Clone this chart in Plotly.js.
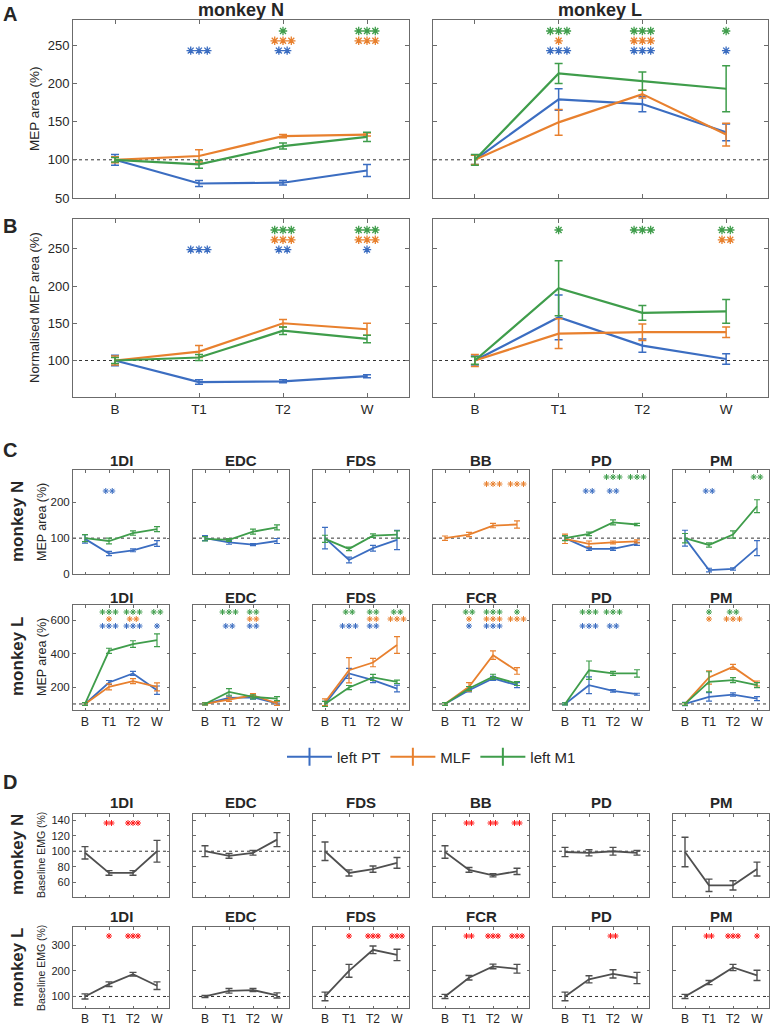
<!DOCTYPE html>
<html>
<head>
<meta charset="utf-8">
<script src="https://cdn.plot.ly/plotly-3.0.1.min.js"></script>
<style>
  body { margin: 0; background: #fff; }
  #fig { width: 770px; height: 1030px; }
</style>
</head>
<body>
<div id="fig"></div>
<script>
// time points
const times = ["B", "T1", "T2", "W"];
const timeIdx = [1, 2, 3, 4];

// A: MEP area (%), mean / error / significance (number of stars)
const aN_PT = [100, 69, 70, 86], aN_PT_err = [7, 4, 3, 8], aN_PT_sig = [0, 3, 2, 0];
const aN_MLF = [100, 105, 131, 133], aN_MLF_err = [4, 8, 2, 2], aN_MLF_sig = [0, 0, 3, 3];
const aN_M1 = [100, 94, 118, 130], aN_M1_err = [3, 5, 4, 6], aN_M1_sig = [0, 0, 1, 3];
const aL_PT = [100, 179, 173, 136], aL_PT_err = [6, 14, 10, 11], aL_PT_sig = [0, 3, 3, 1];
const aL_MLF = [100, 149, 186, 133], aL_MLF_err = [6, 17, 5, 15], aL_MLF_sig = [0, 1, 3, 0];
const aL_M1 = [100, 213, 203, 193], aL_M1_err = [7, 13, 12, 30], aL_M1_sig = [0, 3, 3, 1];

// B: normalised MEP area (%)
const bN_PT = [100, 71, 72, 79], bN_PT_err = [7, 3, 2, 2], bN_PT_sig = [0, 3, 2, 1];
const bN_MLF = [100, 112, 150, 142], bN_MLF_err = [6, 8, 5, 8], bN_MLF_sig = [0, 0, 3, 3];
const bN_M1 = [100, 104, 140, 129], bN_M1_err = [4, 4, 5, 5], bN_M1_sig = [0, 0, 3, 3];
const bL_PT = [100, 158, 120, 102], bL_PT_err = [6, 30, 9, 7], bL_PT_sig = [0, 0, 0, 0];
const bL_MLF = [100, 136, 138, 138], bL_MLF_err = [8, 20, 11, 7], bL_MLF_sig = [0, 0, 0, 2];
const bL_M1 = [100, 197, 164, 166], bL_M1_err = [5, 37, 10, 16], bL_M1_sig = [0, 1, 3, 2];

// C: MEP area per muscle, monkey N
const cN_muscles = ["1DI", "EDC", "FDS", "BB", "PD", "PM"];
const cN_1DI_PT = [98, 57, 66, 85], cN_1DI_PT_err = [12, 6, 4, 8], cN_1DI_PT_sig = [0, 2, 0, 0];
const cN_1DI_M1 = [100, 92, 114, 125], cN_1DI_M1_err = [10, 8, 6, 7];
const cN_EDC_PT = [100, 88, 82, 92], cN_EDC_PT_err = [7, 5, 3, 7];
const cN_EDC_M1 = [98, 95, 118, 130], cN_EDC_M1_err = [6, 4, 7, 7];
const cN_FDS_PT = [100, 39, 72, 95], cN_FDS_PT_err = [30, 8, 8, 27];
const cN_FDS_M1 = [98, 70, 107, 110], cN_FDS_M1_err = [10, 5, 5, 10];
const cN_BB_MLF = [100, 110, 135, 138], cN_BB_MLF_err = [6, 6, 6, 10], cN_BB_MLF_sig = [0, 0, 3, 3];
const cN_PD_PT = [100, 70, 70, 84], cN_PD_PT_err = [6, 4, 4, 4], cN_PD_PT_sig = [0, 2, 2, 0];
const cN_PD_MLF = [98, 84, 88, 91], cN_PD_MLF_err = [13, 8, 4, 4];
const cN_PD_M1 = [100, 112, 144, 138], cN_PD_M1_err = [7, 5, 7, 3], cN_PD_M1_sig = [0, 0, 3, 3];
const cN_PM_PT = [100, 11, 14, 72], cN_PM_PT_err = [22, 5, 3, 21], cN_PM_PT_sig = [0, 2, 0, 0];
const cN_PM_M1 = [100, 81, 110, 189], cN_PM_M1_err = [13, 6, 10, 18], cN_PM_M1_sig = [0, 0, 0, 2];

// C: MEP area per muscle, monkey L
const cL_muscles = ["1DI", "EDC", "FDS", "FCR", "PD", "PM"];
const cL_1DI_PT = [100, 228, 282, 182], cL_1DI_PT_err = [8, 12, 12, 25], cL_1DI_PT_sig = [0, 3, 3, 1];
const cL_1DI_MLF = [100, 202, 236, 202], cL_1DI_MLF_err = [8, 18, 15, 24], cL_1DI_MLF_sig = [0, 1, 2, 0];
const cL_1DI_M1 = [100, 417, 457, 480], cL_1DI_M1_err = [8, 15, 20, 38], cL_1DI_M1_sig = [0, 3, 3, 2];
const cL_EDC_PT = [100, 136, 139, 103], cL_EDC_PT_err = [6, 10, 10, 10], cL_EDC_PT_sig = [0, 2, 2, 0];
const cL_EDC_MLF = [100, 128, 152, 103], cL_EDC_MLF_err = [6, 12, 10, 12], cL_EDC_MLF_sig = [0, 0, 2, 0];
const cL_EDC_M1 = [100, 172, 142, 132], cL_EDC_M1_err = [6, 20, 12, 12], cL_EDC_M1_sig = [0, 3, 2, 0];
const cL_FDS_PT = [100, 282, 242, 192], cL_FDS_PT_err = [15, 30, 15, 20], cL_FDS_PT_sig = [0, 3, 2, 0];
const cL_FDS_MLF = [110, 301, 347, 451], cL_FDS_MLF_err = [20, 75, 25, 50], cL_FDS_MLF_sig = [0, 0, 2, 3];
const cL_FDS_M1 = [100, 198, 258, 232], cL_FDS_M1_err = [15, 12, 18, 10], cL_FDS_M1_sig = [0, 2, 2, 2];
const cL_FCR_PT = [100, 182, 252, 212], cL_FCR_PT_err = [8, 10, 12, 15], cL_FCR_PT_sig = [0, 1, 3, 0];
const cL_FCR_MLF = [100, 202, 391, 297], cL_FCR_MLF_err = [8, 25, 25, 20], cL_FCR_MLF_sig = [0, 1, 3, 3];
const cL_FCR_M1 = [100, 192, 262, 222], cL_FCR_M1_err = [8, 12, 15, 12], cL_FCR_M1_sig = [0, 2, 3, 1];
const cL_PD_PT = [100, 212, 178, 158], cL_PD_PT_err = [6, 50, 8, 6], cL_PD_PT_sig = [0, 3, 2, 0];
const cL_PD_M1 = [100, 301, 282, 282], cL_PD_M1_err = [6, 55, 12, 22], cL_PD_M1_sig = [0, 3, 3, 0];
const cL_PM_PT = [100, 142, 156, 132], cL_PM_PT_err = [10, 25, 10, 12];
const cL_PM_MLF = [100, 258, 321, 222], cL_PM_MLF_err = [8, 40, 15, 15], cL_PM_MLF_sig = [0, 1, 3, 0];
const cL_PM_M1 = [100, 232, 242, 212], cL_PM_M1_err = [8, 60, 15, 15], cL_PM_M1_sig = [0, 1, 2, 0];

// D: baseline EMG (%)
const dN_1DI = [98, 72, 72, 100], dN_1DI_err = [8, 3, 3, 14], dN_1DI_sig = [0, 2, 3, 0];
const dN_EDC = [100, 94, 98, 115], dN_EDC_err = [7, 3, 3, 9];
const dN_FDS = [100, 72, 77, 85], dN_FDS_err = [12, 4, 4, 7];
const dN_BB = [99, 76, 69, 74], dN_BB_err = [8, 3, 2, 4], dN_BB_sig = [0, 2, 2, 2];
const dN_PD = [99, 98, 100, 98], dN_PD_err = [6, 4, 5, 3];
const dN_PM = [99, 56, 56, 77], dN_PM_err = [19, 8, 6, 9];
const dL_1DI = [100, 148, 187, 142], dL_1DI_err = [10, 9, 7, 15], dL_1DI_sig = [0, 1, 3, 0];
const dL_EDC = [100, 122, 125, 104], dL_EDC_err = [4, 9, 6, 10];
const dL_FDS = [100, 200, 282, 262], dL_FDS_err = [17, 25, 15, 22], dL_FDS_sig = [0, 1, 3, 3];
const dL_FCR = [100, 173, 217, 208], dL_FCR_err = [8, 9, 9, 17], dL_FCR_sig = [0, 2, 3, 3];
const dL_PD = [100, 167, 188, 172], dL_PD_err = [17, 14, 16, 22], dL_PD_sig = [0, 0, 2, 0];
const dL_PM = [100, 154, 213, 182], dL_PM_err = [8, 8, 12, 20], dL_PM_sig = [0, 2, 3, 1];

// ---- styling ----
const W = 770, H = 1030;
const FONT = '"Liberation Sans", Arial, sans-serif';
const INK = "#262626";
const AXC = "#6b6b6b";
const COL = { PT: "#3b6dc1", MLF: "#e8802e", M1: "#3f9d4b", EMG: "#4f4f4f" };
const RED = "#ff1a1a";
const NAMES = { PT: "left PT", MLF: "MLF", M1: "left M1" };
const STAR_ROW = { M1: 0, MLF: 1, PT: 2, EMG: 0 };

const data = [];
const layout = {
  width: W,
  height: H,
  margin: { l: 0, r: 0, t: 0, b: 0 },
  paper_bgcolor: "#fff",
  plot_bgcolor: "#fff",
  font: { family: FONT, color: INK },
  hovermode: false,
  showlegend: true,
  legend: {
    orientation: "h",
    x: 282 / W,
    xanchor: "left",
    y: 1 - 757 / H,
    yanchor: "middle",
    font: { size: 15, color: INK },
    itemwidth: 45,
    bgcolor: "rgba(0,0,0,0)",
  },
  shapes: [],
  annotations: [],
};

// styles per figure part
const BIG = { tl: 4, tfs: 13, xfs: 13.5, lw: 2.2, ew: 4, et: 1.5, star: { off: 11, step: 9.8, gap: 8.3, size: 7, lw: 1.3 } };
const SMALL = { tl: 2.5, tfs: 11.5, xfs: 12.5, lw: 1.8, ew: 3, et: 1.2, star: { off: 7, step: 7, gap: 6.5, size: 5, lw: 1 } };
const EMG = { tl: 2.5, tfs: 11, xfs: 12, lw: 1.8, ew: 3.5, et: 1.4, star: { off: 9, step: 0, gap: 5, size: 5, lw: 1 } };

let n = 0;
// box = [left, top, right, bottom] in page pixels
function panel(box, yr, ytv, st, xlab, ylab, series) {
  n += 1;
  const sfx = n === 1 ? "" : String(n);
  const [l, t, r, b] = box;
  const common = {
    ticks: "inside",
    ticklen: st.tl,
    tickcolor: AXC,
    tickwidth: 1,
    showline: true,
    linecolor: AXC,
    linewidth: 1,
    mirror: "ticks",
    showgrid: false,
    zeroline: false,
    fixedrange: true,
  };
  layout["xaxis" + sfx] = {
    ...common,
    domain: [l / W, r / W],
    anchor: "y" + sfx,
    range: [0.5, 4.5],
    tickmode: "array",
    tickvals: timeIdx,
    ticktext: times,
    showticklabels: xlab,
    tickfont: { size: st.xfs, color: INK, family: FONT },
  };
  layout["yaxis" + sfx] = {
    ...common,
    domain: [1 - b / H, 1 - t / H],
    anchor: "x" + sfx,
    range: yr,
    tickmode: "array",
    tickvals: ytv,
    ticktext: ytv.map(String),
    showticklabels: ylab,
    tickfont: { size: st.tfs, color: INK, family: FONT },
  };
  layout.shapes.push({
    type: "line",
    xref: "x" + sfx + " domain",
    x0: 0,
    x1: 1,
    yref: "y" + sfx,
    y0: 100,
    y1: 100,
    layer: "below",
    line: { color: "#333", width: 1, dash: "dot" },
  });

  const pxPerUnitX = (r - l) / 4;
  const unitPerPxY = (yr[1] - yr[0]) / (b - t);
  series.forEach(([g, m, e, sig]) => {
    const c = COL[g];
    data.push({
      x: timeIdx,
      y: m,
      mode: "lines",
      line: { color: c, width: st.lw },
      error_y: { type: "data", array: e, visible: true, color: c, thickness: st.et, width: st.ew },
      xaxis: "x" + sfx,
      yaxis: "y" + sfx,
      showlegend: false,
    });
    if (!sig) return;
    const yRow = yr[1] - (st.star.off + STAR_ROW[g] * st.star.step) * unitPerPxY;
    const xs = [], ys = [];
    sig.forEach((cnt, i) => {
      for (let k = 0; k < cnt; k++) {
        xs.push(timeIdx[i] + ((k - (cnt - 1) / 2) * st.star.gap) / pxPerUnitX);
        ys.push(yRow);
      }
    });
    if (!xs.length) return;
    const sc = g === "EMG" ? RED : c;
    data.push({
      x: xs,
      y: ys,
      mode: "markers",
      marker: { symbol: "asterisk-open", size: st.star.size, color: sc, line: { color: sc, width: st.star.lw } },
      xaxis: "x" + sfx,
      yaxis: "y" + sfx,
      showlegend: false,
    });
  });
}

function txt(text, x, y, size, rot) {
  layout.annotations.push({
    text,
    x: x / W,
    y: 1 - y / H,
    xref: "paper",
    yref: "paper",
    showarrow: false,
    xanchor: "center",
    yanchor: "middle",
    textangle: rot || 0,
    font: { size, family: FONT, color: INK },
  });
}

// ---- A ----
const aTicks = [50, 100, 150, 200, 250];
panel([73, 20, 409, 198], [50, 283], aTicks, BIG, false, true, [
  ["PT", aN_PT, aN_PT_err, aN_PT_sig],
  ["MLF", aN_MLF, aN_MLF_err, aN_MLF_sig],
  ["M1", aN_M1, aN_M1_err, aN_M1_sig],
]);
panel([433, 20, 768, 198], [50, 283], aTicks, BIG, false, false, [
  ["PT", aL_PT, aL_PT_err, aL_PT_sig],
  ["MLF", aL_MLF, aL_MLF_err, aL_MLF_sig],
  ["M1", aL_M1, aL_M1_err, aL_M1_sig],
]);

// ---- B ----
const bTicks = [100, 150, 200, 250];
panel([73, 219, 409, 397], [51, 290], bTicks, BIG, true, true, [
  ["PT", bN_PT, bN_PT_err, bN_PT_sig],
  ["MLF", bN_MLF, bN_MLF_err, bN_MLF_sig],
  ["M1", bN_M1, bN_M1_err, bN_M1_sig],
]);
panel([433, 219, 768, 397], [51, 290], bTicks, BIG, true, false, [
  ["PT", bL_PT, bL_PT_err, bL_PT_sig],
  ["MLF", bL_MLF, bL_MLF_err, bL_MLF_sig],
  ["M1", bL_M1, bL_M1_err, bL_M1_sig],
]);

// ---- C ----
const colLeft = [73, 193, 313, 433, 553, 673];
const colW = 96;
const cTopTicks = [0, 100, 200];
const cBotTicks = [200, 400, 600];
const cTop = [
  [["PT", cN_1DI_PT, cN_1DI_PT_err, cN_1DI_PT_sig], ["M1", cN_1DI_M1, cN_1DI_M1_err]],
  [["PT", cN_EDC_PT, cN_EDC_PT_err], ["M1", cN_EDC_M1, cN_EDC_M1_err]],
  [["PT", cN_FDS_PT, cN_FDS_PT_err], ["M1", cN_FDS_M1, cN_FDS_M1_err]],
  [["MLF", cN_BB_MLF, cN_BB_MLF_err, cN_BB_MLF_sig]],
  [["PT", cN_PD_PT, cN_PD_PT_err, cN_PD_PT_sig], ["MLF", cN_PD_MLF, cN_PD_MLF_err], ["M1", cN_PD_M1, cN_PD_M1_err, cN_PD_M1_sig]],
  [["PT", cN_PM_PT, cN_PM_PT_err, cN_PM_PT_sig], ["M1", cN_PM_M1, cN_PM_M1_err, cN_PM_M1_sig]],
];
const cBot = [
  [["PT", cL_1DI_PT, cL_1DI_PT_err, cL_1DI_PT_sig], ["MLF", cL_1DI_MLF, cL_1DI_MLF_err, cL_1DI_MLF_sig], ["M1", cL_1DI_M1, cL_1DI_M1_err, cL_1DI_M1_sig]],
  [["PT", cL_EDC_PT, cL_EDC_PT_err, cL_EDC_PT_sig], ["MLF", cL_EDC_MLF, cL_EDC_MLF_err, cL_EDC_MLF_sig], ["M1", cL_EDC_M1, cL_EDC_M1_err, cL_EDC_M1_sig]],
  [["PT", cL_FDS_PT, cL_FDS_PT_err, cL_FDS_PT_sig], ["MLF", cL_FDS_MLF, cL_FDS_MLF_err, cL_FDS_MLF_sig], ["M1", cL_FDS_M1, cL_FDS_M1_err, cL_FDS_M1_sig]],
  [["PT", cL_FCR_PT, cL_FCR_PT_err, cL_FCR_PT_sig], ["MLF", cL_FCR_MLF, cL_FCR_MLF_err, cL_FCR_MLF_sig], ["M1", cL_FCR_M1, cL_FCR_M1_err, cL_FCR_M1_sig]],
  [["PT", cL_PD_PT, cL_PD_PT_err, cL_PD_PT_sig], ["M1", cL_PD_M1, cL_PD_M1_err, cL_PD_M1_sig]],
  [["PT", cL_PM_PT, cL_PM_PT_err], ["MLF", cL_PM_MLF, cL_PM_MLF_err, cL_PM_MLF_sig], ["M1", cL_PM_M1, cL_PM_M1_err, cL_PM_M1_sig]],
];
colLeft.forEach((l, i) => {
  panel([l, 470, l + colW, 574], [0, 290], cTopTicks, SMALL, false, i === 0, cTop[i]);
  txt("<b>" + cN_muscles[i] + "</b>", l + colW / 2, 460, 15);
});
colLeft.forEach((l, i) => {
  panel([l, 605, l + colW, 710], [64, 690], cBotTicks, SMALL, true, i === 0, cBot[i]);
  txt("<b>" + cL_muscles[i] + "</b>", l + colW / 2, 597, 15);
});

// ---- D ----
const dTop = [
  [dN_1DI, dN_1DI_err, dN_1DI_sig], [dN_EDC, dN_EDC_err], [dN_FDS, dN_FDS_err],
  [dN_BB, dN_BB_err, dN_BB_sig], [dN_PD, dN_PD_err], [dN_PM, dN_PM_err],
];
const dBot = [
  [dL_1DI, dL_1DI_err, dL_1DI_sig], [dL_EDC, dL_EDC_err], [dL_FDS, dL_FDS_err, dL_FDS_sig],
  [dL_FCR, dL_FCR_err, dL_FCR_sig], [dL_PD, dL_PD_err, dL_PD_sig], [dL_PM, dL_PM_err, dL_PM_sig],
];
colLeft.forEach((l, i) => {
  panel([l, 814, l + colW, 897], [41, 148], [60, 80, 100, 120, 140], EMG, false, i === 0, [["EMG", ...dTop[i]]]);
  txt("<b>" + cN_muscles[i] + "</b>", l + colW / 2, 802, 15);
});
colLeft.forEach((l, i) => {
  panel([l, 927, l + colW, 1008], [55, 371], [100, 200, 300], EMG, true, i === 0, [["EMG", ...dBot[i]]]);
  txt("<b>" + cL_muscles[i] + "</b>", l + colW / 2, 916, 15);
});

// legend entries (error-bar look)
["PT", "MLF", "M1"].forEach((g) => {
  data.push({
    x: [null],
    y: [null],
    name: NAMES[g],
    mode: "lines+markers",
    line: { color: COL[g], width: 2 },
    marker: { symbol: "line-ns-open", size: 13, color: COL[g], line: { color: COL[g], width: 2 } },
    xaxis: "x",
    yaxis: "y",
    showlegend: true,
  });
});

// ---- text ----
txt("<b>monkey N</b>", 241, 10, 18);
txt("<b>monkey L</b>", 600, 10, 18);
txt("<b>A</b>", 10, 14, 20);
txt("<b>B</b>", 10, 226, 20);
txt("<b>C</b>", 10, 450, 20);
txt("<b>D</b>", 10, 782, 20);
txt("MEP area (%)", 34, 109, 13.5, -90);
txt("Normalised MEP area (%)", 34, 308, 13, -90);
txt("<b>monkey N</b>", 17, 522, 17, -90);
txt("<b>monkey L</b>", 17, 657, 17, -90);
txt("MEP area (%)", 42, 522, 12.5, -90);
txt("MEP area (%)", 42, 657, 12.5, -90);
txt("<b>monkey N</b>", 17, 855, 17, -90);
txt("<b>monkey L</b>", 17, 968, 17, -90);
txt("Baseline EMG (%)", 41, 855, 10.5, -90);
txt("Baseline EMG (%)", 41, 968, 10.5, -90);

Plotly.newPlot("fig", data, layout, { displayModeBar: false, staticPlot: true });
</script>
</body>
</html>
